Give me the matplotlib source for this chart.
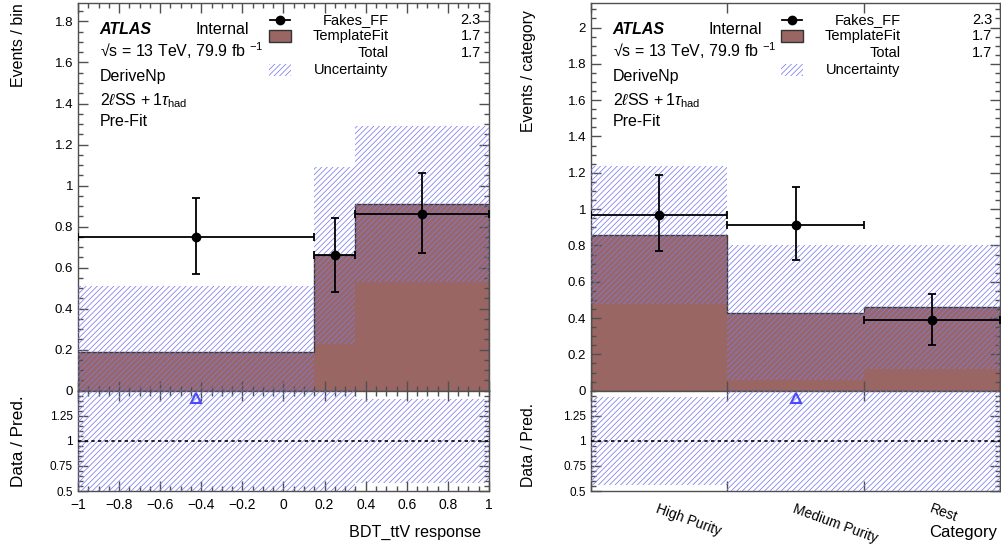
import matplotlib
matplotlib.use('Agg')
import matplotlib.pyplot as plt
from matplotlib.ticker import MultipleLocator, FuncFormatter, FixedLocator
import numpy as np

plt.rcParams['font.family'] = ['Liberation Sans', 'DejaVu Sans']
plt.rcParams['mathtext.fontset'] = 'custom'
plt.rcParams['mathtext.rm'] = 'Liberation Sans'
plt.rcParams['mathtext.it'] = 'Liberation Sans:italic'
plt.rcParams['hatch.linewidth'] = 0.55

# left panel: BDT_ttV response
bdt_edges = [-1.0, 0.15, 0.35, 1.0]
bdt_data = [0.75, 0.66, 0.86]
bdt_data_dn = [0.18, 0.18, 0.19]
bdt_data_up = [0.19, 0.18, 0.20]
bdt_template = [0.19, 0.66, 0.91]
bdt_unc = [0.32, 0.43, 0.38]

# right panel: categories
cat_labels = ['High Purity', 'Medium Purity', 'Rest']
cat_edges = [0, 1, 2, 3]
cat_data = [0.97, 0.91, 0.39]
cat_data_dn = [0.20, 0.19, 0.14]
cat_data_up = [0.22, 0.21, 0.14]
cat_template = [0.86, 0.43, 0.46]
cat_unc = [0.38, 0.37, 0.34]

legend_labels = ['Fakes_FF', 'TemplateFit', 'Total', 'Uncertainty']
legend_yields = ['2.3', '1.7', '1.7', '']

brown = '#996663'
hatch_col = '#7c7cee'
spine_col = '#505050'
HATCH = '//////'


def fmt(x, p):
    return ('%g' % round(x, 3)).replace('-', '\u2212')


def style(ax):
    ax.tick_params(which='both', direction='in', top=True, right=True,
                   color=spine_col, labelsize=9.5, width=1)
    ax.tick_params(which='major', length=7)
    ax.tick_params(which='minor', length=3.5)
    for s in ax.spines.values():
        s.set_color(spine_col)
        s.set_linewidth(1)


def panel(ax, axr, edges, data, dn, up, template, unc):
    edges = np.array(edges, dtype=float)
    data = np.array(data)
    template = np.array(template)
    unc = np.array(unc)
    centers = 0.5 * (edges[1:] + edges[:-1])
    widths = edges[1:] - edges[:-1]

    ax.stairs(template, edges, fill=True, color=brown, zorder=1)
    ax.stairs(template, edges, color='#3a3a3a', lw=1, zorder=2)
    lo = np.clip(template - unc, 0, None)
    hi = template + unc
    ax.bar(centers, hi - lo, bottom=lo, width=widths, facecolor='none',
           edgecolor=hatch_col, hatch=HATCH, linewidth=0, zorder=3)
    ax.errorbar(centers, data, yerr=[dn, up], xerr=widths / 2, fmt='o',
                color='black', ms=6, capsize=3, elinewidth=1.3, capthick=1.3, zorder=5)

    rlo = 1 - unc / template
    rhi = 1 + unc / template
    axr.bar(centers, rhi - rlo, bottom=rlo, width=widths, facecolor='none',
            edgecolor=hatch_col, hatch=HATCH, linewidth=0, zorder=3)
    axr.axhline(1, color='black', lw=1.2, ls=(0, (2, 2)), zorder=4)
    ratio = data / template
    out = ratio > 1.5
    axr.plot(centers[out], np.full(out.sum(), 1.43), '^', mfc='none',
             mec='#4a4aff', ms=7, mew=1.5, zorder=5)
    axr.set_ylim(0.5, 1.5)
    axr.set_xlim(edges[0], edges[-1])
    ax.set_xlim(edges[0], edges[-1])
    axr.yaxis.set_major_locator(FixedLocator([0.5, 0.75, 1, 1.25]))
    axr.yaxis.set_minor_locator(MultipleLocator(0.05))
    axr.yaxis.set_major_formatter(FuncFormatter(fmt))
    ax.yaxis.set_major_locator(MultipleLocator(0.2))
    ax.yaxis.set_minor_locator(MultipleLocator(0.05))
    ax.yaxis.set_major_formatter(FuncFormatter(fmt))
    ax.tick_params(labelbottom=False)
    axr.tick_params(axis='y', labelsize=8.5)

    # atlas labels
    tx = 0.053
    fs = 11.5
    ax.text(tx, 0.921, 'ATLAS', transform=ax.transAxes, fontsize=fs,
            fontweight='bold', fontstyle='italic', va='baseline')
    ax.text(0.287, 0.921, 'Internal', transform=ax.transAxes, fontsize=fs, va='baseline')
    ax.text(tx, 0.861, '\u221as = 13 TeV, 79.9 fb $^{-1}$', transform=ax.transAxes,
            fontsize=fs, va='baseline')
    ax.text(tx, 0.799, 'DeriveNp', transform=ax.transAxes, fontsize=fs, va='baseline')
    ax.text(tx, 0.737, r'2$\ell$SS$\,+1\tau_{\rm had}$', transform=ax.transAxes,
            fontsize=fs, va='baseline')
    ax.text(tx, 0.683, 'Pre-Fit', transform=ax.transAxes, fontsize=fs, va='baseline')

    # legend
    ys = [0.957, 0.915, 0.872, 0.828]
    mx = 0.491
    for lab, yld, y in zip(legend_labels, legend_yields, ys):
        ax.text(0.756, y, lab, transform=ax.transAxes, fontsize=10.5, ha='right', va='center')
        if yld:
            ax.text(0.98, y, yld, transform=ax.transAxes, fontsize=10.5, ha='right', va='center')
    ax.plot([mx - 0.025, mx + 0.025], [ys[0], ys[0]], color='black', lw=1.3,
            transform=ax.transAxes, zorder=6)
    ax.plot([mx], [ys[0]], 'o', color='black', ms=6, transform=ax.transAxes, zorder=6)
    ax.add_patch(plt.Rectangle((mx - 0.027, ys[1] - 0.015), 0.054, 0.03, facecolor=brown,
                               edgecolor='#333333', lw=1, transform=ax.transAxes, zorder=6))
    ax.add_patch(plt.Rectangle((mx - 0.027, ys[3] - 0.015), 0.054, 0.03, facecolor='none',
                               edgecolor=hatch_col, hatch=HATCH, lw=0, transform=ax.transAxes,
                               zorder=6))


fig = plt.figure(figsize=(10.01, 5.46), dpi=100)
axL = fig.add_axes([0.0779, 0.2844, 0.4106, 0.7101])
axLr = fig.add_axes([0.0779, 0.1007, 0.4106, 0.1837])
axR = fig.add_axes([0.5904, 0.2844, 0.4091, 0.7101])
axRr = fig.add_axes([0.5904, 0.1007, 0.4091, 0.1837])
for a in (axL, axLr, axR, axRr):
    style(a)

panel(axL, axLr, bdt_edges, bdt_data, bdt_data_dn, bdt_data_up, bdt_template, bdt_unc)
panel(axR, axRr, cat_edges, cat_data, cat_data_dn, cat_data_up, cat_template, cat_unc)

axL.set_ylim(0, 1.89)
axR.set_ylim(0, 2.135)

for a in (axL, axLr):
    a.xaxis.set_major_locator(MultipleLocator(0.2))
    a.xaxis.set_minor_locator(MultipleLocator(0.05))
    a.xaxis.set_major_formatter(FuncFormatter(fmt))
axLr.tick_params(axis='x', labelsize=10, pad=5)

for a in (axR, axRr):
    a.xaxis.set_major_locator(FixedLocator(cat_edges))
    a.xaxis.set_major_formatter(FuncFormatter(lambda x, p: ''))
    a.xaxis.set_minor_locator(FixedLocator([]))
axRr.set_xticks([0.5, 1.5, 2.5], cat_labels, minor=True)
axRr.tick_params(axis='x', which='minor', length=0, pad=8, labelsize=10)
for lbl in axRr.get_xticklabels(minor=True):
    lbl.set_rotation(-20)
    lbl.set_ha('left')
    lbl.set_va('top')
    lbl.set_rotation_mode('anchor')

fig.text(0.018, 0.9945, 'Events / bin', rotation=90, ha='center', va='top', fontsize=11.5)
fig.text(0.5275, 0.982, 'Events / category', rotation=90, ha='center', va='top', fontsize=11.3)
fig.text(0.018, 0.108, 'Data / Pred.', rotation=90, ha='center', va='bottom', fontsize=12.3)
fig.text(0.5275, 0.108, 'Data / Pred.', rotation=90, ha='center', va='bottom', fontsize=11.3)
fig.text(0.4805, 0.017, 'BDT_ttV response', ha='right', va='baseline', fontsize=11.6)
fig.text(0.996, 0.017, 'Category', ha='right', va='baseline', fontsize=12)

fig.savefig('out.png', dpi=100)
